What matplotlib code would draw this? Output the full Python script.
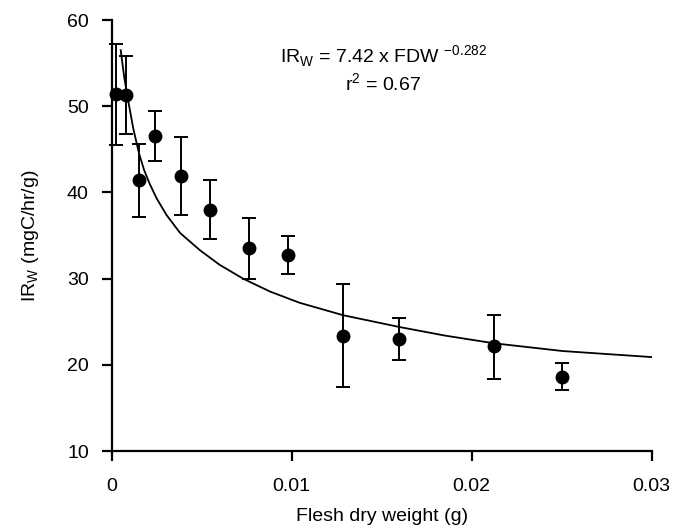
import matplotlib
matplotlib.use('Agg')
import matplotlib.pyplot as plt
import numpy as np

# measured points (flesh dry weight in g, IR_w in mgC/hr/g)
fdw = [0.00022, 0.00082, 0.00152, 0.00243, 0.00387, 0.00544,
       0.00763, 0.0098, 0.01286, 0.01594, 0.02124, 0.02504]
irw = [51.4, 51.3, 41.4, 46.6, 41.9, 38.0,
       33.5, 32.7, 23.35, 23.05, 22.15, 18.6]
err_hi = [57.2, 55.8, 45.6, 49.5, 46.4, 41.4,
          37.0, 34.9, 29.35, 25.4, 25.8, 20.2]
err_lo = [45.5, 46.8, 37.2, 43.7, 37.4, 34.6,
          30.0, 30.5, 17.4, 20.6, 18.35, 17.1]

# fitted curve
fit_x = [0.0005, 0.0007, 0.00091, 0.0012, 0.00152, 0.0018, 0.00211, 0.0025,
         0.00304, 0.0038, 0.0049, 0.006, 0.0073, 0.0088, 0.01044, 0.01287,
         0.01596, 0.0185, 0.02124, 0.02506, 0.03]
fit_y = [56.5, 53.3, 50.7, 47.4, 44.5, 42.6, 41.0, 39.3,
         37.4, 35.3, 33.3, 31.6, 30.0, 28.5, 27.2, 25.75,
         24.4, 23.4, 22.5, 21.6, 20.9]

plt.rcParams['font.family'] = ['Liberation Sans', 'DejaVu Sans']

fig = plt.figure(figsize=(6.75, 5.29), dpi=100)
ax = fig.add_axes([0.1655, 0.1474, 0.8, 0.8146])

yerr = [np.array(irw) - np.array(err_lo), np.array(err_hi) - np.array(irw)]
ax.errorbar(fdw, irw, yerr=yerr, fmt='o', color='black', markersize=9,
            elinewidth=1.4, capsize=5, capthick=1.4, clip_on=False, zorder=3)
ax.plot(fit_x, fit_y, color='black', linewidth=1.3)

ax.set_xlim(0, 0.03)
ax.set_ylim(10, 60)
ax.set_xticks([0, 0.01, 0.02, 0.03])
ax.set_xticklabels(['0', '0.01', '0.02', '0.03'])
ax.set_yticks([10, 20, 30, 40, 50, 60])

for s in ['top', 'right']:
    ax.spines[s].set_visible(False)
for s in ['left', 'bottom']:
    ax.spines[s].set_linewidth(1.6)
ax.tick_params(direction='out', length=7.5, width=1.6, labelsize=14)
ax.tick_params(axis='x', pad=12)
ax.tick_params(axis='y', pad=9)

ax.set_xlabel('Flesh dry weight (g)', fontsize=14, labelpad=9)
ax.set_ylabel(r'IR$_\mathregular{W}$ (mgC/hr/g)', fontsize=14, labelpad=19)

ax.text(0.0151, 55.8, r'IR$_\mathregular{W}$ = 7.42 x FDW $^\mathregular{-0.282}$',
        ha='center', va='center', fontsize=14)
ax.text(0.0151, 52.6, r'r$^\mathregular{2}$ = 0.67', ha='center', va='center',
        fontsize=14)

fig.savefig('out.png', dpi=100)
